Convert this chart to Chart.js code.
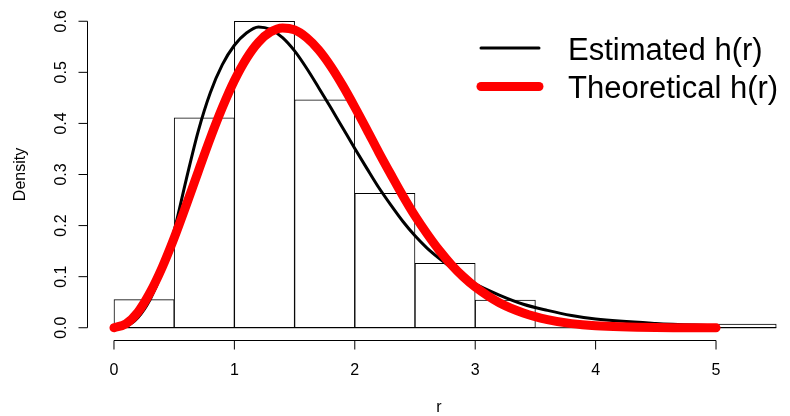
<!DOCTYPE html>
<html>
<head>
<meta charset="utf-8">
<script src="https://cdn.jsdelivr.net/npm/chart.js@4/dist/chart.umd.min.js"></script>
<style>
  html, body { margin: 0; padding: 0; background: #fff; }
  canvas { display: block; }
</style>
</head>
<body>
<canvas id="myChart" width="790" height="416"></canvas>
<script>
// histogram bins (width 0.5) and their densities
const binMids = [0.25, 0.75, 1.25, 1.75, 2.25, 2.75, 3.25, 3.75, 4.25, 4.75, 5.25];
const binDensity = [0.055, 0.411, 0.6, 0.446, 0.263, 0.126, 0.054, 0, 0, 0, 0.007];

// density curves
const rGrid = [0, 0.1, 0.2, 0.3, 0.4, 0.5, 0.6, 0.7, 0.8, 0.9, 1.0, 1.1, 1.2, 1.3, 1.4, 1.5, 1.6, 1.7, 1.8, 1.9,
  2.0, 2.1, 2.2, 2.3, 2.4, 2.5, 2.6, 2.7, 2.8, 2.9, 3.0, 3.2, 3.4, 3.6, 3.8, 4.0, 4.5, 5.0];
const estimatedH = [0, 0.003, 0.02, 0.055, 0.11, 0.19, 0.29, 0.385, 0.46, 0.515, 0.553, 0.577, 0.589, 0.584, 0.568, 0.542, 0.508, 0.47, 0.431, 0.391,
  0.351, 0.312, 0.274, 0.24, 0.208, 0.18, 0.156, 0.136, 0.118, 0.101, 0.086, 0.064, 0.046, 0.034, 0.024, 0.017, 0.0085, 0.004];
const theoreticalH = [0, 0.008, 0.031, 0.069, 0.118, 0.176, 0.240, 0.306, 0.371, 0.431, 0.484, 0.527, 0.559, 0.579, 0.587, 0.583, 0.568, 0.544, 0.512, 0.474,
  0.432, 0.388, 0.343, 0.300, 0.258, 0.219, 0.184, 0.152, 0.124, 0.100, 0.080, 0.049, 0.029, 0.016, 0.008, 0.004, 0.0006, 0];

const xTicks = [0, 1, 2, 3, 4, 5];
const yTicks = [0, 0.1, 0.2, 0.3, 0.4, 0.5, 0.6];
const xTitle = 'r';
const yTitle = 'Density';

const baseFont = '"Liberation Sans", Arial, Helvetica, sans-serif';

// R style axes, drawn from the chart's own scales
const rAxes = {
  id: 'rAxes',
  afterDraw(chart) {
    const { ctx, chartArea, scales: { x, y } } = chart;
    ctx.save();
    ctx.strokeStyle = '#000';
    ctx.fillStyle = '#000';
    ctx.lineWidth = 1;
    ctx.font = '16px ' + baseFont;

    // x axis
    const xb = chartArea.bottom + 0.5;
    ctx.beginPath();
    ctx.moveTo(x.getPixelForValue(xTicks[0]), xb);
    ctx.lineTo(x.getPixelForValue(xTicks[xTicks.length - 1]), xb);
    xTicks.forEach(v => {
      const px = x.getPixelForValue(v);
      ctx.moveTo(px, xb);
      ctx.lineTo(px, xb + 9);
    });
    ctx.stroke();
    ctx.textAlign = 'center';
    ctx.textBaseline = 'alphabetic';
    xTicks.forEach(v => ctx.fillText(String(v), x.getPixelForValue(v), 375));
    ctx.fillText(xTitle, (chartArea.left + chartArea.right) / 2 + 1, 412);

    // y axis
    const yl = chartArea.left + 0.5;
    ctx.beginPath();
    ctx.moveTo(yl, y.getPixelForValue(yTicks[0]));
    ctx.lineTo(yl, y.getPixelForValue(yTicks[yTicks.length - 1]));
    yTicks.forEach(v => {
      const py = y.getPixelForValue(v);
      ctx.moveTo(yl, py);
      ctx.lineTo(yl - 9, py);
    });
    ctx.stroke();
    yTicks.forEach(v => {
      ctx.save();
      ctx.translate(66, y.getPixelForValue(v));
      ctx.rotate(-Math.PI / 2);
      ctx.fillText(v.toFixed(1), 0, 0);
      ctx.restore();
    });
    ctx.save();
    ctx.translate(25, (chartArea.top + chartArea.bottom) / 2);
    ctx.rotate(-Math.PI / 2);
    ctx.fillText(yTitle, 0, 0);
    ctx.restore();
    ctx.restore();
  }
};

// legend without a box, top right
const rLegend = {
  id: 'rLegend',
  afterDraw(chart) {
    const ctx = chart.ctx;
    const items = chart.data.datasets.filter(ds => ds.inLegend);
    ctx.save();
    ctx.font = '31px ' + baseFont;
    ctx.textAlign = 'left';
    ctx.textBaseline = 'alphabetic';
    items.forEach((ds, i) => {
      const ly = 48 + i * 38.5;
      ctx.beginPath();
      ctx.strokeStyle = ds.borderColor;
      ctx.lineWidth = ds.borderWidth;
      ctx.lineCap = 'round';
      ctx.moveTo(481, ly);
      ctx.lineTo(539, ly);
      ctx.stroke();
      ctx.fillStyle = '#000';
      ctx.fillText(ds.label, 568, ly + 11.5);
    });
    ctx.restore();
  }
};

const ctx = document.getElementById('myChart');

new Chart(ctx, {
  type: 'bar',
  data: {
    datasets: [
      {
        type: 'bar',
        label: 'hist',
        data: binMids.map((m, i) => ({ x: m, y: binDensity[i] })),
        backgroundColor: '#fff',
        borderColor: '#000',
        borderWidth: 1,
        borderSkipped: false,
        barPercentage: 1,
        categoryPercentage: 1,
        order: 3
      },
      {
        type: 'line',
        label: 'base',
        data: [{ x: binMids[0] - 0.25, y: 0 }, { x: binMids[binMids.length - 1] + 0.25, y: 0 }],
        borderColor: '#000',
        borderWidth: 1,
        pointRadius: 0,
        order: 2
      },
      {
        type: 'line',
        label: 'Estimated h(r)',
        inLegend: true,
        data: rGrid.map((r, i) => ({ x: r, y: estimatedH[i] })),
        borderColor: '#000',
        borderWidth: 3,
        pointRadius: 0,
        cubicInterpolationMode: 'monotone',
        borderCapStyle: 'round',
        borderJoinStyle: 'round',
        order: 1
      },
      {
        type: 'line',
        label: 'Theoretical h(r)',
        inLegend: true,
        data: rGrid.map((r, i) => ({ x: r, y: theoreticalH[i] })),
        borderColor: '#ff0000',
        borderWidth: 9,
        pointRadius: 0,
        cubicInterpolationMode: 'monotone',
        borderCapStyle: 'round',
        borderJoinStyle: 'round',
        order: 0
      }
    ]
  },
  options: {
    responsive: false,
    animation: false,
    devicePixelRatio: 1,
    layout: { padding: { left: 87, right: 1, top: 9, bottom: 76 } },
    scales: {
      x: {
        type: 'linear',
        display: false,
        offset: false,
        min: -0.224,
        max: 5.606,
        afterBuildTicks: s => { s.ticks = xTicks.map(v => ({ value: v })); }
      },
      y: {
        display: false,
        min: -0.024,
        max: 0.624,
        afterBuildTicks: s => { s.ticks = yTicks.map(v => ({ value: v })); }
      }
    },
    plugins: {
      legend: { display: false },
      tooltip: { enabled: false }
    }
  },
  plugins: [rAxes, rLegend]
});
</script>
</body>
</html>
